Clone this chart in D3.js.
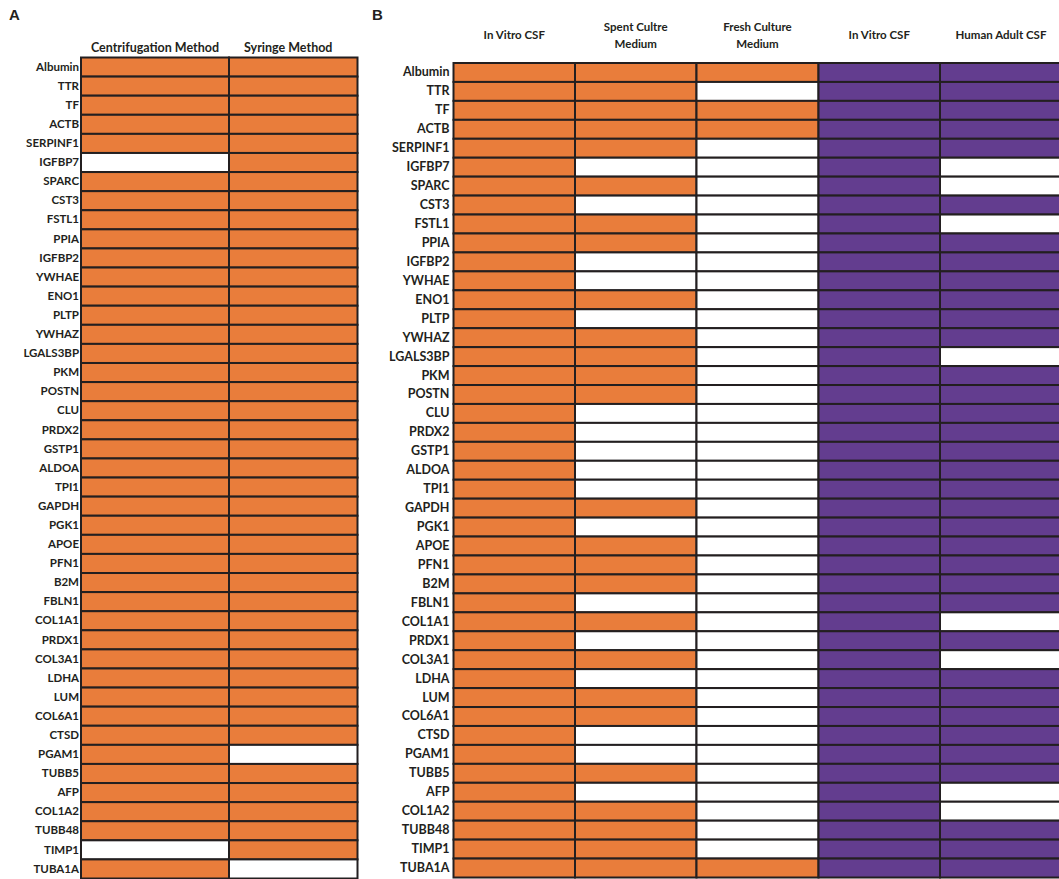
<!DOCTYPE html>
<html>
<head>
<meta charset="utf-8">
<script src="https://cdn.jsdelivr.net/npm/d3@7"></script>
<style>
  html, body { margin: 0; padding: 0; background: #fff; }
  svg { display: block; }
  text { font-family: Lato, "Open Sans", sans-serif; font-weight: 700; fill: #231f20; }
</style>
</head>
<body>
<svg id="chart" width="1059" height="879"></svg>
<script>
// Proteins, in the row order used by both panels
const genes = ["Albumin","TTR","TF","ACTB","SERPINF1","IGFBP7","SPARC","CST3","FSTL1","PPIA",
  "IGFBP2","YWHAE","ENO1","PLTP","YWHAZ","LGALS3BP","PKM","POSTN","CLU","PRDX2",
  "GSTP1","ALDOA","TPI1","GAPDH","PGK1","APOE","PFN1","B2M","FBLN1","COL1A1",
  "PRDX1","COL3A1","LDHA","LUM","COL6A1","CTSD","PGAM1","TUBB5","AFP","COL1A2",
  "TUBB48","TIMP1","TUBA1A"];

// Panel A: detection (1 = detected) by collection method
const methodsA = ["Centrifugation Method", "Syringe Method"];
const centrifugation = [1,1,1,1,1,0,1,1,1,1, 1,1,1,1,1,1,1,1,1,1, 1,1,1,1,1,1,1,1,1,1, 1,1,1,1,1,1,1,1,1,1, 1,0,1];
const syringe        = [1,1,1,1,1,1,1,1,1,1, 1,1,1,1,1,1,1,1,1,1, 1,1,1,1,1,1,1,1,1,1, 1,1,1,1,1,1,0,1,1,1, 1,1,0];

// Panel B: detection by sample type
const samplesB = ["In Vitro CSF", "Spent Cultre Medium", "Fresh Culture Medium", "In Vitro CSF ", "Human Adult CSF"];
const headerLinesB = [["In Vitro CSF"], ["Spent Cultre", "Medium"], ["Fresh Culture", "Medium"], ["In Vitro CSF"], ["Human Adult CSF"]];
const comparisonB = ["culture", "culture", "culture", "csf", "csf"];
const inVitroCSF_1 = [1,1,1,1,1,1,1,1,1,1, 1,1,1,1,1,1,1,1,1,1, 1,1,1,1,1,1,1,1,1,1, 1,1,1,1,1,1,1,1,1,1, 1,1,1];
const spentMedium  = [1,1,1,1,1,0,1,0,1,1, 0,0,1,0,1,1,1,1,0,0, 0,0,0,1,0,1,1,1,0,1, 0,1,0,1,1,0,0,1,0,1, 1,1,1];
const freshMedium  = [1,0,1,1,0,0,0,0,0,0, 0,0,0,0,0,0,0,0,0,0, 0,0,0,0,0,0,0,0,0,0, 0,0,0,0,0,0,0,0,0,0, 0,0,1];
const inVitroCSF_2 = [1,1,1,1,1,1,1,1,1,1, 1,1,1,1,1,1,1,1,1,1, 1,1,1,1,1,1,1,1,1,1, 1,1,1,1,1,1,1,1,1,1, 1,1,1];
const humanAdultCSF= [1,1,1,1,1,0,0,1,0,1, 1,1,1,1,1,0,1,1,1,1, 1,1,1,1,1,1,1,1,1,0, 1,0,1,1,1,1,1,1,0,0, 1,1,1];

const valuesA = [centrifugation, syringe];
const valuesB = [inVitroCSF_1, spentMedium, freshMedium, inVitroCSF_2, humanAdultCSF];

const ORANGE = "#e97d3b", PURPLE = "#633d8f", GRID = "#231f20";
const groupColor = d3.scaleOrdinal().domain(["culture", "csf"]).range([ORANGE, PURPLE]);

const svg = d3.select("#chart");

function cells(values, cols, groupOf) {
  const out = [];
  cols.forEach((c, j) => genes.forEach((g, i) => out.push({ col: c, j, gene: g, v: values[j][i], group: groupOf(j) })));
  return out;
}

// Column edges come from a piecewise-linear scale over column index,
// so panels can have columns of unequal width.
function drawPanel(opts) {
  const n = opts.cols.length;
  const edge = d3.scaleLinear().domain(d3.range(n + 1)).range(opts.xEdges);
  const y = d3.scaleBand().domain(genes).range(opts.yRange).padding(0);
  const g = svg.append("g");

  g.selectAll("rect.cell")
    .data(cells(opts.values, opts.cols, opts.groupOf))
    .join("rect")
    .attr("class", "cell")
    .attr("x", d => edge(d.j))
    .attr("y", d => y(d.gene))
    .attr("width", d => edge(d.j + 1) - edge(d.j))
    .attr("height", y.bandwidth())
    .attr("fill", d => d.v ? groupColor(d.group) : "#fff")
    .attr("stroke", GRID)
    .attr("stroke-width", 2);

  // Row labels
  const axis = d3.axisLeft(y).tickSize(0).tickPadding(opts.labelPad);
  const ag = g.append("g").attr("transform", `translate(${edge(0)},0)`).call(axis);
  ag.select(".domain").remove();
  ag.selectAll("text")
    .attr("font-family", null)
    .style("font-size", opts.labelSize + "px");

  // Column headers
  const hg = g.append("g");
  opts.cols.forEach((c, j) => {
    const cx = (edge(j) + edge(j + 1)) / 2 + (opts.headerShift ? opts.headerShift[j] : 0);
    const lines = opts.headerLines[j];
    const t = hg.append("text")
      .attr("x", cx)
      .attr("y", opts.headerY)
      .attr("text-anchor", "middle")
      .style("font-size", opts.headerSize + "px");
    lines.forEach((ln, k) => {
      t.append("tspan")
        .attr("x", cx)
        .attr("dy", k === 0 ? (-(lines.length - 1) * opts.headerLead / 2) + "px" : opts.headerLead + "px")
        .text(ln);
    });
  });
  return g;
}

drawPanel({
  cols: methodsA, values: valuesA, groupOf: () => "culture",
  xEdges: [81, 229, 357.5], yRange: [57.5, 878.5],
  labelPad: 2, labelSize: 11.5,
  headerLines: methodsA.map(m => [m]), headerY: 52, headerSize: 12.5, headerLead: 15,
  headerShift: [0, -5]
});

drawPanel({
  cols: samplesB, values: valuesB, groupOf: j => comparisonB[j],
  xEdges: [453.5, 575, 696.5, 818.5, 940, 1062], yRange: [63, 877.5],
  labelPad: 4, labelSize: 12.5,
  headerLines: headerLinesB, headerY: 39, headerSize: 11.5, headerLead: 17
});

// Panel letters
svg.append("text").attr("x", 9).attr("y", 20).style("font-family", "'Liberation Sans', Arial, sans-serif").style("font-size", "15px").text("A");
svg.append("text").attr("x", 372).attr("y", 20).style("font-family", "'Liberation Sans', Arial, sans-serif").style("font-size", "15px").text("B");
</script>
</body>
</html>
